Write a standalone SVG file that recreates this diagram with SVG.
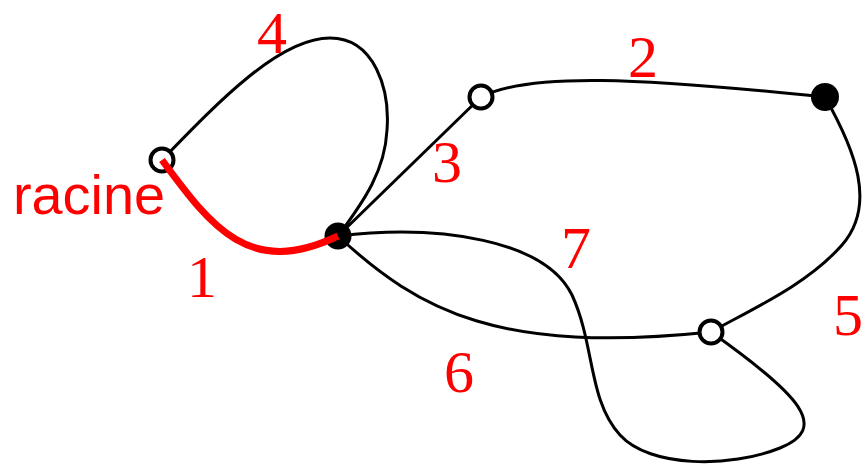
<svg xmlns="http://www.w3.org/2000/svg" width="864" height="467" viewBox="0 0 864 467">
<style>
.e{fill:none;stroke:#000;stroke-width:3;stroke-linecap:round}
.r{fill:none;stroke:#f00;stroke-width:7}
.o{fill:#fff;stroke:#000;stroke-width:4}
.f{fill:#000}
.l{fill:#f00;font-family:"Liberation Serif",serif;font-size:60px;text-anchor:middle}
.s{fill:#f00;font-family:"Liberation Sans",sans-serif;font-size:56px}
</style>
<rect width="864" height="467" fill="#fff"/>
<g id="connectors">
<path id="e4" class="e" d="M162,160 C220,100 280,38 330,38 C375,38 390,90 387,130 C385,170 365,200 338,236"/>
<path id="e3" class="e" d="M338,236 L481,97"/>
<path id="e2" class="e" d="M481,97 C530,72 640,78 825,97"/>
<path id="e5" class="e" d="M825,97 C855,150 877,205 842,245 C807,285 750,310 711,332"/>
<path id="e6" class="e" d="M338,236 C420,312 500,354 711,332"/>
<path id="e7" class="e" d="M338,236 C440,224 545,240 572,295 C595,345 588,400 620,435 C650,468 730,468 780,448 C830,428 800,395 711,332"/>
</g>
<g id="nodeR"><circle class="o" cx="162" cy="160" r="11.5"/></g>
<g id="nodeA"><circle class="f" cx="338" cy="236" r="13.5"/></g>
<g id="nodeB"><circle class="o" cx="481" cy="97" r="11.5"/></g>
<g id="nodeC"><circle class="f" cx="825" cy="97" r="14"/></g>
<g id="nodeD"><circle class="o" cx="711" cy="332" r="11.5"/></g>
<g id="edge1"><path class="r" d="M162,160 C212,228 250,278 338,236"/></g>
<g id="labels">
<text class="s" x="13" y="214" textLength="152" lengthAdjust="spacingAndGlyphs">racine</text>
<text class="l" x="202" y="297">1</text>
<text class="l" x="643" y="77">2</text>
<text class="l" x="447" y="182">3</text>
<text class="l" x="272" y="53">4</text>
<text class="l" x="848" y="335">5</text>
<text class="l" x="459" y="392">6</text>
<text class="l" x="576" y="268">7</text>
</g>
</svg>
